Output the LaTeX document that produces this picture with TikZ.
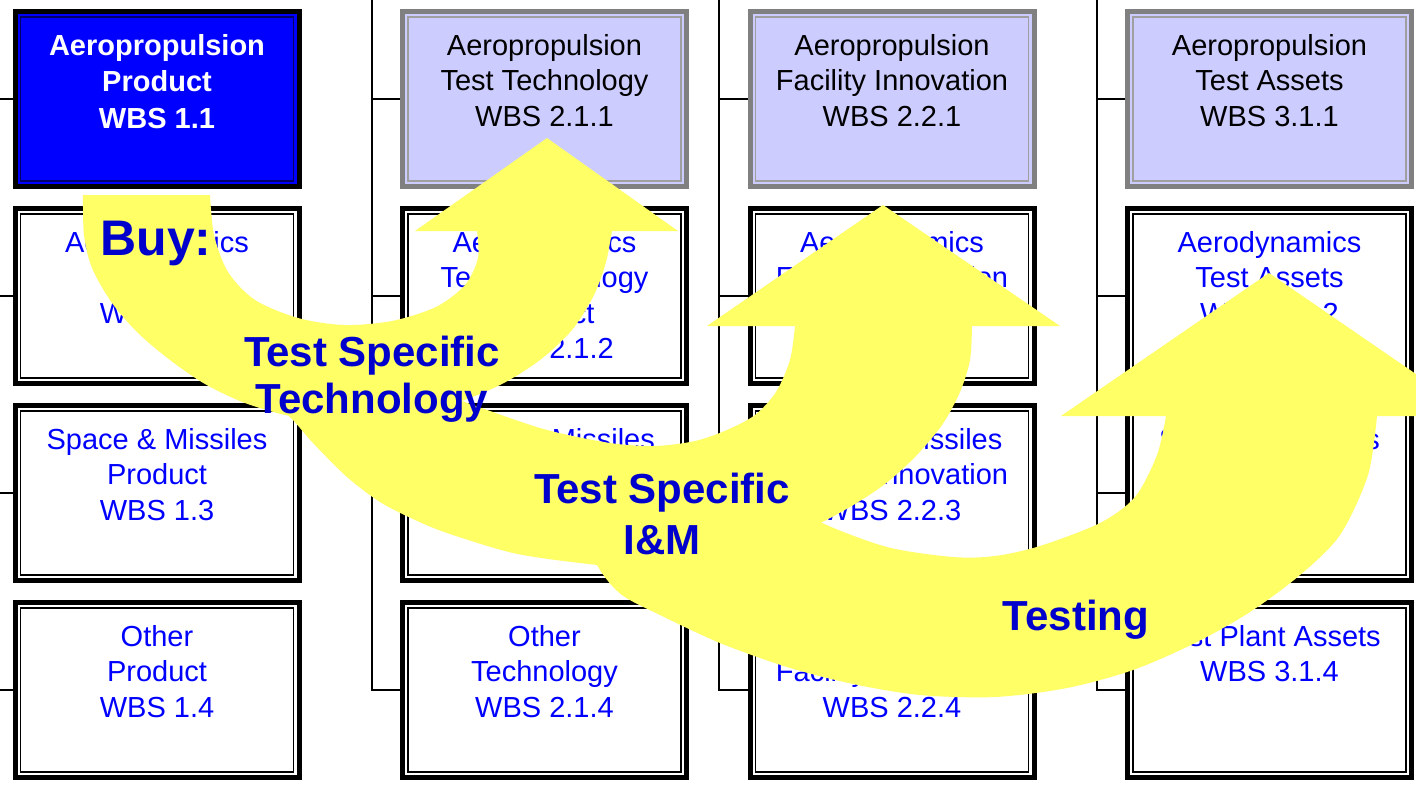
\documentclass[tikz,border=0pt]{standalone}
\usepackage{fontspec}
\setmainfont{Liberation Sans}
\usetikzlibrary{positioning}
\definecolor{wbsblue}{HTML}{0000FF}
\definecolor{lblblue}{HTML}{0000CC}
\definecolor{wbslav}{HTML}{CCCCFF}
\definecolor{flowyellow}{HTML}{FFFF66}
\definecolor{rimgray}{HTML}{808080}

\begin{document}
\begin{tikzpicture}[x=1pt,y=-1pt,
	wbsbox/.style={draw=black,line width=5pt,fill=white,minimum width=284pt,minimum height=175pt,inner sep=0pt},
	topbox/.style={wbsbox,draw=rimgray,fill=wbslav},
	mainbox/.style={wbsbox,fill=wbsblue},
	inframe/.style={draw=black,line width=1.2pt},
	wbstext/.style={inner sep=0pt,align=center,text=wbsblue,font=\fontsize{29}{35.5}\selectfont},
	tree/.style={draw=black,line width=1.5pt},
	flow/.style={fill=flowyellow},
	flowtext/.style={inner sep=0pt,align=center,text=lblblue,font=\bfseries\fontsize{42}{47}\selectfont}]
		\useasboundingbox (0,0) rectangle (1416,785);
		\fill[white] (0,0) rectangle (1416,785);
		\clip (0,0) rectangle (1416,785);
		
		\node[mainbox] (b11) at (157,99) {};
		\node[topbox] (b21) at (544.5,99) {};
		\node[topbox] (b31) at (892,99) {};
		\node[topbox] (b41) at (1269.5,99) {};
		\node[wbsbox,below=17pt of b11] (b12) {};
		\node[wbsbox,below=17pt of b12] (b13) {};
		\node[wbsbox,below=17pt of b13] (b14) {};
		\node[wbsbox,below=17pt of b21] (b22) {};
		\node[wbsbox,below=17pt of b22] (b23) {};
		\node[wbsbox,below=17pt of b23] (b24) {};
		\node[wbsbox,below=17pt of b31] (b32) {};
		\node[wbsbox,below=17pt of b32] (b33) {};
		\node[wbsbox,below=17pt of b33] (b34) {};
		\node[wbsbox,below=17pt of b41] (b42) {};
		\node[wbsbox,below=17pt of b42] (b43) {};
		\node[wbsbox,below=17pt of b43] (b44) {};
		
		\foreach \bx in {b12,b13,b14,b22,b23,b24,b32,b33,b34,b42,b43,b44}
			\draw[inframe] ([shift={(8,8)}]\bx.north west) rectangle ([shift={(-8,-8)}]\bx.south east);
		\foreach \bx in {b21,b31,b41}
			\draw[inframe,draw=gray!75] ([shift={(8,8)}]\bx.north west) rectangle ([shift={(-8,-8)}]\bx.south east);
		\draw[inframe,draw=blue!40!black] ([shift={(8,8)}]b11.north west) rectangle ([shift={(-8,-8)}]b11.south east);
		
		\node[wbstext,text=white,font=\bfseries\fontsize{29}{36.5}\selectfont,below=25pt of b11.north] (t11) {Aeropropulsion\\Product\\WBS 1.1};
		\node[wbstext,below=25pt of b12.north] (t12) {Aerodynamics\\Product\\WBS 1.2};
		\node[wbstext,below=25pt of b13.north] (t13) {Space \& Missiles\\Product\\WBS 1.3};
		\node[wbstext,below=25pt of b14.north] (t14) {Other\\Product\\WBS 1.4};
		\node[wbstext,text=black,below=25pt of b21.north] (t21) {Aeropropulsion\\Test Technology\\WBS 2.1.1};
		\node[wbstext,below=25pt of b22.north] (t22) {Aerodynamics\\Test Technology\\Product\\WBS 2.1.2};
		\node[wbstext,below=25pt of b23.north] (t23) {Space \& Missiles\\Test Technology\\WBS 2.1.3};
		\node[wbstext,below=25pt of b24.north] (t24) {Other\\Technology\\WBS 2.1.4};
		\node[wbstext,text=black,below=25pt of b31.north] (t31) {Aeropropulsion\\Facility Innovation\\WBS 2.2.1};
		\node[wbstext,below=25pt of b32.north] (t32) {Aerodynamics\\Facility Innovation\\WBS 2.2.2};
		\node[wbstext,below=25pt of b33.north] (t33) {Space \& Missiles\\Facility Innovation\\WBS 2.2.3};
		\node[wbstext,below=25pt of b34.north] (t34) {Other\\Facility Innovation\\WBS 2.2.4};
		\node[wbstext,text=black,below=25pt of b41.north] (t41) {Aeropropulsion\\Test Assets\\WBS 3.1.1};
		\node[wbstext,below=25pt of b42.north] (t42) {Aerodynamics\\Test Assets\\WBS 3.1.2};
		\node[wbstext,below=25pt of b43.north] (t43) {Space \& Missiles\\Test Assets\\WBS 3.1.3};
		\node[wbstext,below=25pt of b44.north] (t44) {Test Plant Assets\\WBS 3.1.4};
		
		\coordinate (k1) at (0,0);
		\coordinate (k2) at (372,0);
		\coordinate (k3) at (719,0);
		\coordinate (k4) at (1097,0);
		\foreach \cl in {2,3,4}
			\draw[tree] (k\cl) |- (b\cl4.west);
		\foreach \cl in {1,...,4}
			\foreach \rw in {1,2,3}
				\draw[tree] (k\cl |- b\cl\rw.west) -- (b\cl\rw.west);
		\draw[tree] (k1 |- b14.west) -- (b14.west);
		
		% buy -> test specific technology
		\fill[flow] (83,195) -- (210,195)
			-- plot[smooth] coordinates {(210,195) (214,235) (228,272) (255,300) (298,318) (344,325) (392,321) (436,307) (465,285) (478,258) (477,231)}
			-- (415,231) -- (547,138) -- (678,231) -- (612,231)
			-- plot[smooth] coordinates {(612,231) (606,262) (594,295) (572,330) (540,360) (500,385) (450,405) (395,418) (340,422) (290,416) (245,403) (205,384) (170,360) (138,333) (112,303) (92,268) (84,235) (83,195)}
			-- cycle;
		% test specific I&M
		\fill[flow] (185,330) -- (360,330)
			-- plot[smooth] coordinates {(360,330) (395,365) (440,392) (490,411) (547,430) (610,443) (655,446) (695,441) (727,430) (755,415) (776,392) (790,360) (795,326)}
			-- (707,326) -- (883,205) -- (1060,326) -- (972,326)
			-- plot[smooth] coordinates {(972,326) (970,360) (960,392) (942,425) (915,457) (885,484) (850,507) (810,528) (760,548) (700,562) (640,568) (580,563) (513,553) (447,533) (413,519) (380,502) (347,477) (313,443) (290,417) (258,390) (222,358) (185,330)}
			-- cycle;
		% testing
		\fill[flow] (555,470) -- (760,470)
			-- plot[smooth] coordinates {(760,470) (785,498) (820,522) (887,547) (953,557) (995,556) (1040,546) (1100,523) (1135,497) (1157,455) (1166,416)}
			-- (1061,416) -- (1269,273) -- (1477,416) -- (1377,416)
			-- plot[smooth] coordinates {(1377,416) (1368,475) (1340,535) (1300,575) (1250,612) (1195,643) (1133,670) (1067,688) (995,697) (920,695) (853,684) (787,667) (720,643) (660,615) (622,595) (600,570) (580,530) (565,500) (555,470)}
			-- cycle;
		
		\node[flowtext,font=\bfseries\fontsize{50}{60}\selectfont,anchor=base] (buy) at (156,255) {Buy:};
		\node[flowtext,anchor=north] (tstech) at (372,336) {Test Specific\\Technology};
		\node[flowtext,font=\bfseries\fontsize{42}{51}\selectfont,anchor=north] (tsim) at (662,473) {Test Specific\\I\&M};
		\node[flowtext,anchor=base] (testing) at (1076,630) {Testing};
	\end{tikzpicture}
\end{document}
